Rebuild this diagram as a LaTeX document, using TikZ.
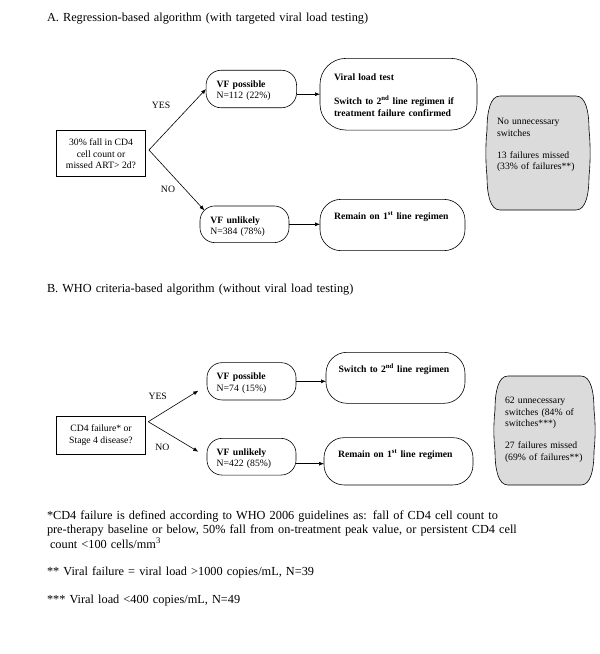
\documentclass[tikz,border=0pt]{standalone}
\usepackage{fontspec}
\setmainfont{Liberation Serif}
\usetikzlibrary{arrows.meta,calc}
\newcommand\bxf{\fontsize{9.7}{11.5}\selectfont}
\newcommand\bigf{\fontsize{12.3}{14.2}\selectfont}
\newcommand\gshape[1]{%
  \draw[gline] ($(#1.north west)+(13,0)$) -- ($(#1.north east)+(-13,0)$)
    .. controls +(10,0) and +(0,-18) .. ($(#1.north east)+(0,34)$)
    .. controls +(1.5,12) and +(1.5,-12) .. ($(#1.south east)+(0,-34)$)
    .. controls +(0,18) and +(10,0) .. ($(#1.south east)+(-13,0)$)
    -- ($(#1.south west)+(13,0)$)
    .. controls +(-10,0) and +(0,18) .. ($(#1.south west)+(0,-34)$)
    .. controls +(-1.5,-12) and +(-1.5,12) .. ($(#1.north west)+(0,34)$)
    .. controls +(0,-18) and +(-10,0) .. ($(#1.north west)+(13,0)$) -- cycle;}
\begin{document}
\begin{tikzpicture}[x=1pt,y=-1pt,
  every node/.style={inner sep=0pt, outer sep=0pt},
  qbox/.style={draw, line width=0.6pt, align=center, font=\bxf},
  rbox/.style={draw, line width=0.6pt, rounded corners=#1},
  gbox/.style={},
  gline/.style={draw, line width=0.6pt, fill=gray!28},
  txt/.style={anchor=base west, align=left, text width=170pt, font=\bxf},
  bigtxt/.style={anchor=base west, align=left, text width=480pt, font=\bigf},
  lab/.style={font=\bxf},
  arr/.style={line width=0.6pt, -{Latex[length=5pt,width=4pt]}}
]
\fill[white] (0,0) rectangle (600,654);
\useasboundingbox (0,0) rectangle (600,654);

% ---------- Part A ----------
\node[bigtxt] (titA) at (47,21.5) {A. Regression-based algorithm (with targeted viral load testing)};

\node[qbox, minimum width=89.5pt, minimum height=46pt] (qA) at (101,153.7)
  {30\% fall in CD4\\cell count or\\missed ART> 2d?};
\node[rbox=15pt, minimum width=90.5pt, minimum height=37.5pt] (vfpA) at (251.3,89) {};
\node[rbox=26pt, minimum width=157pt, minimum height=71.7pt] (vltA) at (398.5,94.2) {};
\node[gbox, minimum width=102pt, minimum height=114pt] (greyA) at (538,153) {};
\gshape{greyA}
\node[rbox=15pt, minimum width=89pt, minimum height=36.7pt] (vfuA) at (244.5,224.3) {};
\node[rbox=21pt, minimum width=145pt, minimum height=51.3pt] (remA) at (392.5,225) {};

\node[txt, font=\fontsize{9.7}{11}\selectfont] (tvfpA) at (216.5,87.3) {\textbf{VF possible}\\N=112 (22\%)};
\node[txt, font=\fontsize{9.7}{12}\selectfont\bfseries] (tvltA) at (334,80.7)
  {Viral load test\\[11.3pt]Switch to 2\textsuperscript{nd} line regimen if\\treatment failure confirmed};
\node[txt] (tgreyA) at (497,124.5) {No unnecessary\\switches\\[10.7pt]13 failures missed\\(33\% of failures**)};
\node[txt, font=\fontsize{9.7}{11}\selectfont] (tvfuA) at (210.4,223) {\textbf{VF unlikely}\\N=384 (78\%)};
\node[txt, font=\bxf\bfseries] (tremA) at (334,219.3) {Remain on 1\textsuperscript{st} line regimen};

\node[lab] (yesA) at (161,105.7) {YES};
\node[lab] (noA) at (168,189) {NO};

\coordinate (apexA) at ($(qA.east)+(3.2,-3.7)$);
\coordinate (endA2) at ($(vfuA.north west)+(4.4,4.4)$);
\draw[arr] (apexA) -- (vfpA.west);
\draw[arr] (apexA) -- (endA2);
\draw[arr] (vfpA.east |- vltA.west) -- (vltA.west);
\draw[arr] (vfuA.east) -- (vfuA.east -| remA.west);

% ---------- Part B ----------
\node[bigtxt] (titB) at (47,292.5) {B. WHO criteria-based algorithm (without viral load testing)};

\node[qbox, minimum width=89.5pt, minimum height=38pt] (qB) at (101,435)
  {CD4 failure* or\\Stage 4 disease?};
\node[rbox=15pt, minimum width=89pt, minimum height=37.3pt] (vfpB) at (251.5,381.3) {};
\node[rbox=21pt, minimum width=139pt, minimum height=51pt] (swB) at (395.5,377.8) {};
\node[gbox, minimum width=99pt, minimum height=109pt] (greyB) at (544.5,430.5) {};
\gshape{greyB}
\node[rbox=15pt, minimum width=89pt, minimum height=36.7pt] (vfuB) at (251.5,456.7) {};
\node[rbox=20pt, minimum width=149pt, minimum height=47.3pt] (remB) at (398.5,461.3) {};

\node[txt, font=\fontsize{9.7}{11.6}\selectfont] (tvfpB) at (216.7,379.7) {\textbf{VF possible}\\N=74 (15\%)};
\node[txt, font=\bxf\bfseries] (tswB) at (338.5,372) {Switch to 2\textsuperscript{nd} line regimen};
\node[txt, font=\fontsize{9.7}{11}\selectfont] (tvfuB) at (216.7,455.3) {\textbf{VF unlikely}\\N=422 (85\%)};
\node[txt, font=\bxf\bfseries] (tremB) at (338,457) {Remain on 1\textsuperscript{st} line regimen};
\node[txt, font=\fontsize{9.7}{11.3}\selectfont] (tgreyB) at (505,403.7)
  {62 unnecessary\\switches (84\% of\\switches***)\\[11.1pt]27 failures missed\\(69\% of failures**)};

\node[lab] (yesB) at (157.7,396.7) {YES};
\node[lab] (noB) at (162.3,447.3) {NO};

\coordinate (apexB) at ($(qB.east)+(2.5,-13.3)$);
\coordinate (endB1) at ($(vfpB.west)+(-8.7,9.4)$);
\coordinate (endB2) at ($(vfuB.west)+(-8.7,-5)$);
\draw[arr] (apexB) -- (endB1);
\draw[arr] (apexB) -- (endB2);
\draw[arr] (vfpB.east) -- (vfpB.east -| swB.west);
\coordinate (stB) at ($(vfuB.east)+(-0.5,7)$);
\draw[arr] (stB) -- (stB -| remB.west);

% ---------- Footnotes ----------
\node[bigtxt] (fn1) at (47,519.7)
  {*CD4 failure is defined according to WHO 2006 guidelines as: fall of CD4 cell count to\\pre-therapy baseline or below, 50\% fall from on-treatment peak value, or persistent CD4 cell\\\hspace*{3pt}count <100 cells/mm\textsuperscript{3}};
\node[bigtxt] (fn2) at (47,575) {** Viral failure = viral load >1000 copies/mL, N=39};
\node[bigtxt] (fn3) at (47,603) {*** Viral load <400 copies/mL, N=49};
\end{tikzpicture}
\end{document}
